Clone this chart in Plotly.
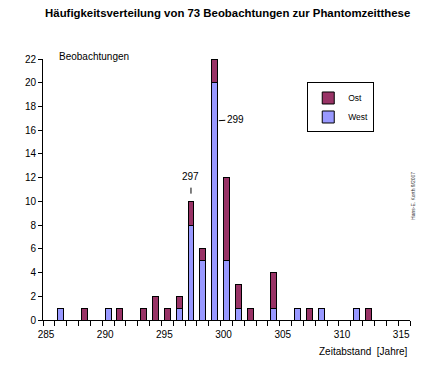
import plotly.graph_objects as go

# Data
years = [286, 288, 290, 291, 293, 294, 295, 296, 297, 298, 299, 300, 301, 302, 304, 306, 307, 308, 311, 312]
west  = [1,   0,   1,   0,   0,   0,   0,   1,   8,   5,   20,  5,   1,   0,   1,   1,   0,   1,   1,   0]
ost   = [0,   1,   0,   1,   1,   2,   1,   1,   2,   1,   2,   7,   2,   1,   3,   0,   1,   0,   0,   1]
x_tick_vals = [285, 290, 295, 300, 305, 310, 315]
y_tick_vals = list(range(0, 23, 2))

FONT = "Liberation Sans, Arial, sans-serif"
COL_OST = "#993366"
COL_WEST = "#9999FF"

bin_centers = [y + 0.5 for y in years]

fig = go.Figure()
fig.add_trace(go.Bar(
    x=bin_centers, y=west, name="West", width=0.5,
    marker=dict(color=COL_WEST, line=dict(color="black", width=1)),
))
fig.add_trace(go.Bar(
    x=bin_centers, y=ost, name="Ost", width=0.5,
    marker=dict(color=COL_OST, line=dict(color="black", width=1)),
))

fig.update_layout(
    barmode="stack",
    width=428, height=365,
    margin=dict(l=43, r=18, t=59, b=45),
    paper_bgcolor="white", plot_bgcolor="white",
    font=dict(family=FONT, size=10, color="black"),
    title=dict(
        text="<b>Häufigkeitsverteilung von 73 Beobachtungen zur Phantomzeitthese</b>",
        x=0.532, xanchor="center", y=0.964, yanchor="middle",
        font=dict(family=FONT, size=11.4, color="black"),
    ),
    legend=dict(
        x=0.72, y=0.91, xanchor="left", yanchor="top",
        bordercolor="black", borderwidth=1, bgcolor="white",
        traceorder="reversed", font=dict(size=8.5),
        itemwidth=30, tracegroupgap=0,
    ),
    showlegend=True,
)

fig.update_xaxes(
    range=[285, 316], tickvals=x_tick_vals, ticktext=[str(v) for v in x_tick_vals],
    showline=True, linecolor="black", linewidth=1,
    ticks="outside", ticklen=5, tickcolor="black", tickwidth=1,
    minor=dict(dtick=1, tick0=285, ticks="outside", ticklen=5, tickcolor="black", tickwidth=1),
    showgrid=False, zeroline=False, ticklabelshift=3,
    tickfont=dict(size=10),
)
fig.update_yaxes(
    range=[0, 22], tickvals=y_tick_vals,
    showline=True, linecolor="black", linewidth=1,
    ticks="outside", ticklen=4, tickcolor="black", tickwidth=1,
    showgrid=False, zeroline=False,
    tickfont=dict(size=10),
)

fig.add_annotation(text="Beobachtungen", xref="paper", yref="paper",
                   x=0.038, y=1.008, xanchor="left", yanchor="middle",
                   showarrow=False, font=dict(size=10))
fig.add_annotation(text="Zeitabstand  [Jahre]", xref="paper", yref="paper",
                   x=1.0, y=-0.119, xanchor="right", yanchor="middle",
                   showarrow=False, font=dict(size=10))
fig.add_annotation(text="Hans-E. Korth 9/2007", xref="paper", yref="paper",
                   x=1.008, y=0.475, xanchor="center", yanchor="middle",
                   textangle=-90, showarrow=False, font=dict(size=5, color="#333333"))
# Peak labels
fig.add_annotation(text="297", x=297.5, y=10.65, xref="x", yref="y",
                   showarrow=True, arrowhead=0, arrowwidth=1, arrowcolor="black",
                   ax=0, ay=-17, startstandoff=4, font=dict(size=10))
fig.add_annotation(text="299", x=299.85, y=16.8, xref="x", yref="y",
                   showarrow=True, arrowhead=0, arrowwidth=1, arrowcolor="black",
                   ax=16.5, ay=-1, font=dict(size=10))

fig.write_html("out.html", config={"displayModeBar": False},
               post_script="document.body.style.margin='0';")
